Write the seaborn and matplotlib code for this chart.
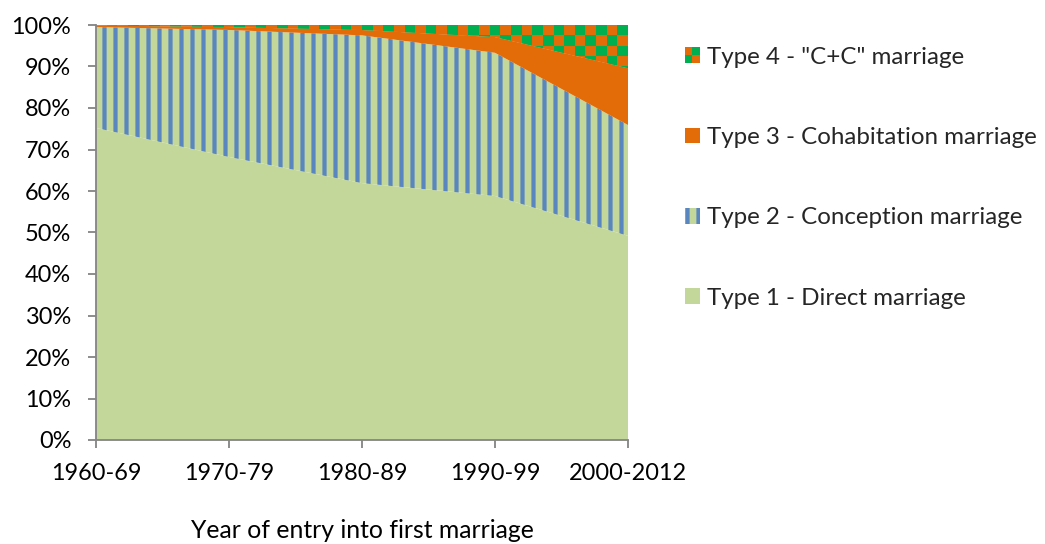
import numpy as np
import pandas as pd
import seaborn as sns
import matplotlib.pyplot as plt
from matplotlib.patches import Patch, Rectangle
from matplotlib.colors import ListedColormap
from matplotlib.legend_handler import HandlerBase

# share of first marriages by type (%)
periods = ["1960-69", "1970-79", "1980-89", "1990-99", "2000-2012"]
type1 = [75.2, 68.2, 61.9, 58.8, 49.2]
type2 = [24.3, 30.6, 35.6, 34.5, 26.7]
type3 = [0.4, 0.7, 1.3, 3.8, 13.7]
type4 = [0.1, 0.5, 1.2, 2.9, 10.4]
labels = ["Type 1 - Direct marriage", "Type 2 - Conception marriage",
          "Type 3 - Cohabitation marriage", 'Type 4 - "C+C" marriage']

GREEN_LIGHT = "#c4d79b"
BLUE = "#5a86c0"
ORANGE = "#e36c09"
GREEN = "#00b050"
AXIS_GREY = "#868686"

DPI = 132
sns.set_theme(style="white")
plt.rcParams["font.family"] = ["Lato", "DejaVu Sans"]
plt.rcParams["hatch.linewidth"] = 2.3


class CheckerHandler(HandlerBase):
    # draws a small 2x2 checker square as legend key
    def create_artists(self, legend, orig_handle, xdescent, ydescent, width, height, fontsize, trans):
        arts = []
        w, h = width / 2, height / 2
        cols = [[ORANGE, GREEN], [GREEN, ORANGE]]
        for i in range(2):
            for j in range(2):
                r = Rectangle((-xdescent + j * w, -ydescent + i * h), w, h,
                              facecolor=cols[1 - i][j], edgecolor="none", transform=trans)
                arts.append(r)
        return arts


df = pd.DataFrame({labels[0]: type1, labels[1]: type2, labels[2]: type3, labels[3]: type4},
                  index=periods)
cum = df.cumsum(axis=1)
x = np.arange(len(periods))

fig = plt.figure(figsize=(1045 / DPI, 544 / DPI), dpi=DPI)
ax = fig.add_axes([96 / 1045, 104 / 544, 532 / 1045, 415 / 544])

lower = np.zeros(len(periods))
upper = cum[labels[0]].to_numpy()
ax.fill_between(x, lower, upper, facecolor=GREEN_LIGHT, edgecolor="none", linewidth=0)

lower = upper
upper = cum[labels[1]].to_numpy()
ax.fill_between(x, lower, upper, facecolor=GREEN_LIGHT, edgecolor=BLUE, linewidth=0, hatch="||")

lower = upper
upper = cum[labels[2]].to_numpy()
ax.fill_between(x, lower, upper, facecolor=ORANGE, edgecolor="none", linewidth=0)

lower = upper
upper = cum[labels[3]].to_numpy()
poly4 = ax.fill_between(x, lower, upper, facecolor=ORANGE, edgecolor="none", linewidth=0)

# checkerboard texture clipped to the type 4 band
nx, ny = 50, 40
checker = np.add.outer(np.arange(ny), np.arange(nx)) % 2
im = ax.imshow(checker, cmap=ListedColormap([ORANGE, GREEN]), extent=(0, len(periods) - 1, 0, 100),
               aspect="auto", interpolation="nearest", origin="upper", zorder=poly4.get_zorder())
im.set_clip_path(poly4.get_paths()[0], transform=ax.transData)

ax.set_xlim(0, len(periods) - 1)
ax.set_ylim(0, 100)
ax.set_xticks(x)
ax.set_xticklabels(periods)
ax.set_yticks(np.arange(0, 101, 10))
ax.set_yticklabels([f"{v}%" for v in range(0, 101, 10)])

for side in ["top", "right"]:
    ax.spines[side].set_visible(False)
for side in ["left", "bottom"]:
    ax.spines[side].set_color(AXIS_GREY)
    ax.spines[side].set_linewidth(1.0)

ax.tick_params(axis="both", direction="out", length=4.5, width=1, color=AXIS_GREY,
               labelsize=12.8, labelcolor="black")
ax.tick_params(axis="x", pad=8, bottom=True)
ax.tick_params(axis="y", pad=9, left=True)

ax.set_xlabel("Year of entry into first marriage", fontsize=13.5, color="black", labelpad=19)

handles = [
    Patch(facecolor=GREEN, edgecolor="none"),
    Patch(facecolor=ORANGE, edgecolor="none"),
    Patch(facecolor=GREEN_LIGHT, edgecolor=BLUE, linewidth=0, hatch="||"),
    Patch(facecolor=GREEN_LIGHT, edgecolor="none"),
]
leg = fig.legend(handles, labels[::-1], loc="upper left", bbox_to_anchor=(675 / 1045, 1 - 37 / 544),
                 frameon=False, fontsize=13.2, handlelength=0.62, handleheight=0.62,
                 handletextpad=0.3, labelspacing=2.45, borderaxespad=0,
                 handler_map={handles[0]: CheckerHandler()})

fig.savefig("out.png", dpi=DPI)
